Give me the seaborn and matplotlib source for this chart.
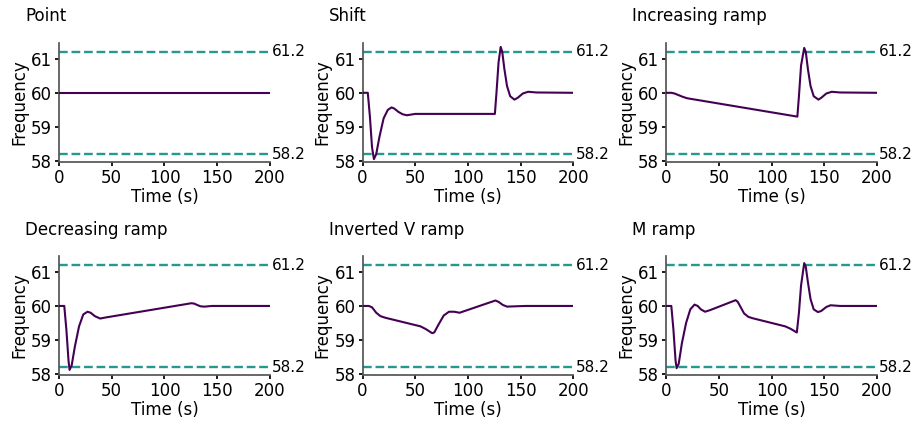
import numpy as np
import pandas as pd
import matplotlib
matplotlib.use("Agg")
import matplotlib.pyplot as plt
import seaborn as sns
from matplotlib.transforms import blended_transform_factory

panel_titles = ["Point", "Shift", "Increasing ramp",
                "Decreasing ramp", "Inverted V ramp", "M ramp"]

point_t = [0, 200]
point_f = [60.0, 60.0]

shift_t = [0, 5, 7, 9, 10.8, 13, 16, 20, 24, 27.5, 30, 34, 38, 42, 46, 50,
           125.5, 127, 129, 131, 132.5, 134.5, 137, 140, 144, 147, 152, 157, 165, 200]
shift_f = [60, 60, 59.3, 58.4, 58.05, 58.2, 58.7, 59.25, 59.5, 59.57, 59.54, 59.44,
           59.37, 59.34, 59.36, 59.38,
           59.38, 60.0, 60.9, 61.35, 61.2, 60.7, 60.2, 59.9, 59.8, 59.85, 59.98,
           60.03, 60.01, 60.0]

inc_t = [0, 5, 8, 12, 16, 20, 124.5, 126, 128, 131, 132.5, 134.5, 137, 140,
         144.5, 147, 152, 157, 165, 200]
inc_f = [60, 60, 59.98, 59.93, 59.88, 59.84, 59.30, 59.9, 60.8, 61.32, 61.2,
         60.7, 60.2, 59.9, 59.8, 59.85, 59.98, 60.03, 60.01, 60.0]

dec_t = [0, 5, 7, 9, 10, 12, 15, 19, 23, 27, 30, 34, 39, 44, 125.5, 128, 131,
         134, 138, 145, 200]
dec_f = [60, 60, 59.3, 58.4, 58.12, 58.25, 58.8, 59.4, 59.75, 59.83, 59.8, 59.7,
         59.63, 59.66, 60.08, 60.07, 60.03, 59.99, 59.98, 60.0, 60.0]

inv_t = [0, 6, 9, 13, 17, 22, 55, 60, 66, 68, 72, 77, 82, 87, 92, 126, 129,
         133, 137, 145, 155, 200]
inv_f = [60, 60, 59.96, 59.8, 59.7, 59.65, 59.4, 59.32, 59.2, 59.22, 59.45,
         59.72, 59.83, 59.83, 59.8, 60.16, 60.12, 60.03, 59.98, 59.99, 60.0, 60.0]

m_t = [0, 5, 7, 9, 10, 12, 15, 19, 23, 27, 30, 33, 37, 42, 66, 68, 71, 74, 78,
       82, 113, 118, 124, 126, 128, 131, 132.5, 134.5, 137, 140, 144, 147, 152,
       156, 165, 200]
m_f = [60, 60, 59.3, 58.4, 58.17, 58.3, 58.9, 59.5, 59.9, 60.04, 60.0, 59.9,
       59.83, 59.88, 60.17, 60.12, 59.95, 59.78, 59.68, 59.64, 59.4, 59.33, 59.22,
       59.8, 60.6, 61.26, 61.15, 60.7, 60.2, 59.9, 59.82, 59.85, 59.97, 60.02,
       60.0, 60.0]

series_t = [point_t, shift_t, inc_t, dec_t, inv_t, m_t]
series_f = [point_f, shift_f, inc_f, dec_f, inv_f, m_f]

upper_limit = 61.2
lower_limit = 58.2
x_ticks = [0, 50, 100, 150, 200]
y_ticks = [58, 59, 60, 61]

line_color = "#440154"
limit_color = "#26998f"

sns.set_theme(style="ticks")
plt.rcParams["font.family"] = ["DejaVu Sans"]
plt.rcParams["xtick.labelsize"] = 12
plt.rcParams["ytick.labelsize"] = 12
plt.rcParams["axes.labelsize"] = 12
plt.rcParams["text.color"] = "black"
plt.rcParams["axes.labelcolor"] = "black"

fig, axes = plt.subplots(2, 3, figsize=(9.12, 4.28), dpi=100)
fig.subplots_adjust(left=0.0647, right=0.9616, top=0.900, bottom=0.1238,
                    wspace=0.439, hspace=0.79)

for ax, title, t, f in zip(axes.flat, panel_titles, series_t, series_f):
    df = pd.DataFrame({"Time (s)": t, "Frequency": f})
    ax.axhline(upper_limit, color=limit_color, ls="--", lw=1.7, zorder=1)
    ax.axhline(lower_limit, color=limit_color, ls="--", lw=1.7, zorder=1)
    sns.lineplot(data=df, x="Time (s)", y="Frequency", ax=ax, color=line_color,
                 lw=1.5, zorder=3, estimator=None, sort=False)
    ax.set_xlim(0, 200)
    ax.set_ylim(57.97, 61.47)
    ax.set_xticks(x_ticks)
    ax.set_yticks(y_ticks)
    ax.set_xlabel("Time (s)", labelpad=1)
    ax.set_ylabel("Frequency", labelpad=2)
    tr = blended_transform_factory(ax.transAxes, ax.transData)
    ax.text(1.01, upper_limit, f"{upper_limit}", transform=tr, ha="left",
            va="center", fontsize=11, color="black")
    ax.text(1.01, lower_limit, f"{lower_limit}", transform=tr, ha="left",
            va="center", fontsize=11, color="black")
    ax.text(-0.16, 1.18, title, transform=ax.transAxes, ha="left",
            va="baseline", fontsize=12)
    ax.tick_params(length=3, pad=2, colors="black")
    for s in ("left", "bottom"):
        ax.spines[s].set_color("#555555")
    sns.despine(ax=ax)

fig.savefig("out.png", dpi=100)
